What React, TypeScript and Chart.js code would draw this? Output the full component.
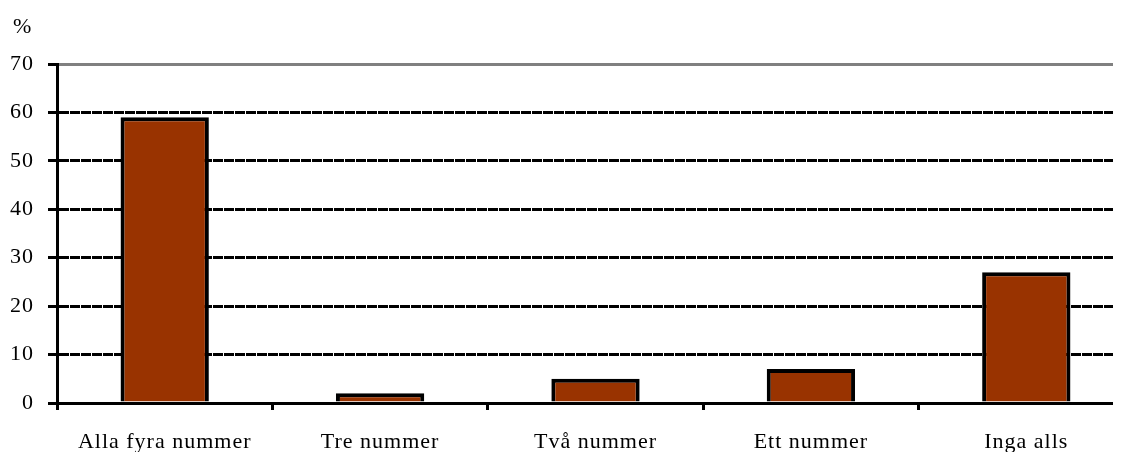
import React, { useEffect, useRef } from 'react';
import { Chart, registerables } from 'chart.js';

Chart.register(...registerables);

const categories = ['Alla fyra nummer', 'Tre nummer', 'Två nummer', 'Ett nummer', 'Inga alls'];
const values = [59, 2, 5, 7, 27];
const yTicks = [0, 10, 20, 30, 40, 50, 60, 70];
const unitLabel = '%';

const FONT_FAMILY = "'Liberation Serif', 'Times New Roman', serif";

export default function App() {
  const ref = useRef<HTMLCanvasElement>(null);

  useEffect(() => {
    const font = { family: FONT_FAMILY, size: 22 };

    const extras = {
      id: 'extras',
      beforeDraw(chart: any) {
        chart.ctx.letterSpacing = '1px';
      },
      afterDraw(chart: any) {
        const { ctx, chartArea } = chart;
        ctx.save();
        ctx.font = `22px ${FONT_FAMILY}`;
        ctx.fillStyle = '#000';
        ctx.textAlign = 'left';
        ctx.textBaseline = 'middle';
        ctx.fillText(unitLabel, chartArea.left - 44, chartArea.top - 37);
        ctx.restore();
      },
    };

    const chart = new Chart(ref.current as HTMLCanvasElement, {
      type: 'bar',
      data: {
        labels: categories,
        datasets: [
          {
            data: values,
            backgroundColor: '#993300',
            borderColor: '#000000',
            borderWidth: 4,
            borderSkipped: 'start',
            barPercentage: 0.41,
            categoryPercentage: 1,
          },
        ],
      },
      options: {
        animation: false,
        responsive: false,
        maintainAspectRatio: false,
        layout: { padding: { top: 56, left: 0, right: 0, bottom: 0 } },
        plugins: {
          legend: { display: false },
          tooltip: { enabled: false },
          title: { display: false },
        },
        scales: {
          x: {
            grid: {
              display: true,
              drawOnChartArea: false,
              drawTicks: true,
              tickLength: 7,
              tickColor: '#000',
              tickWidth: 3,
              offset: true,
            },
            border: { display: true, color: '#000', width: 3 },
            ticks: { color: '#000', font, padding: 19, maxRotation: 0, autoSkip: false },
            afterFit: (s: any) => {
              s.height = 49;
            },
          },
          y: {
            min: 0,
            max: 70,
            afterBuildTicks: (s: any) => {
              s.ticks = yTicks.map((v) => ({ value: v }));
            },
            grid: {
              color: (c: any) => (c.tick && c.tick.value === 70 ? '#808080' : '#000'),
              lineWidth: 3,
              drawTicks: true,
              tickLength: 9,
              tickColor: '#000',
              tickWidth: 3,
              tickBorderDash: [],
            },
            border: {
              display: true,
              color: '#000',
              width: 3,
              dash: (c: any) => (c.tick && c.tick.value === 70 ? [] : [10, 1]),
            },
            ticks: { color: '#000', font, padding: 14 },
            afterFit: (s: any) => {
              s.width = 49;
            },
          },
        },
      },
      plugins: [extras],
    } as any);

    return () => chart.destroy();
  }, []);

  return (
    <div style={{ width: 1113, height: 444, overflow: 'hidden', position: 'relative' }}>
      <canvas ref={ref} width={1126} height={444} style={{ display: 'block' }} />
    </div>
  );
}
